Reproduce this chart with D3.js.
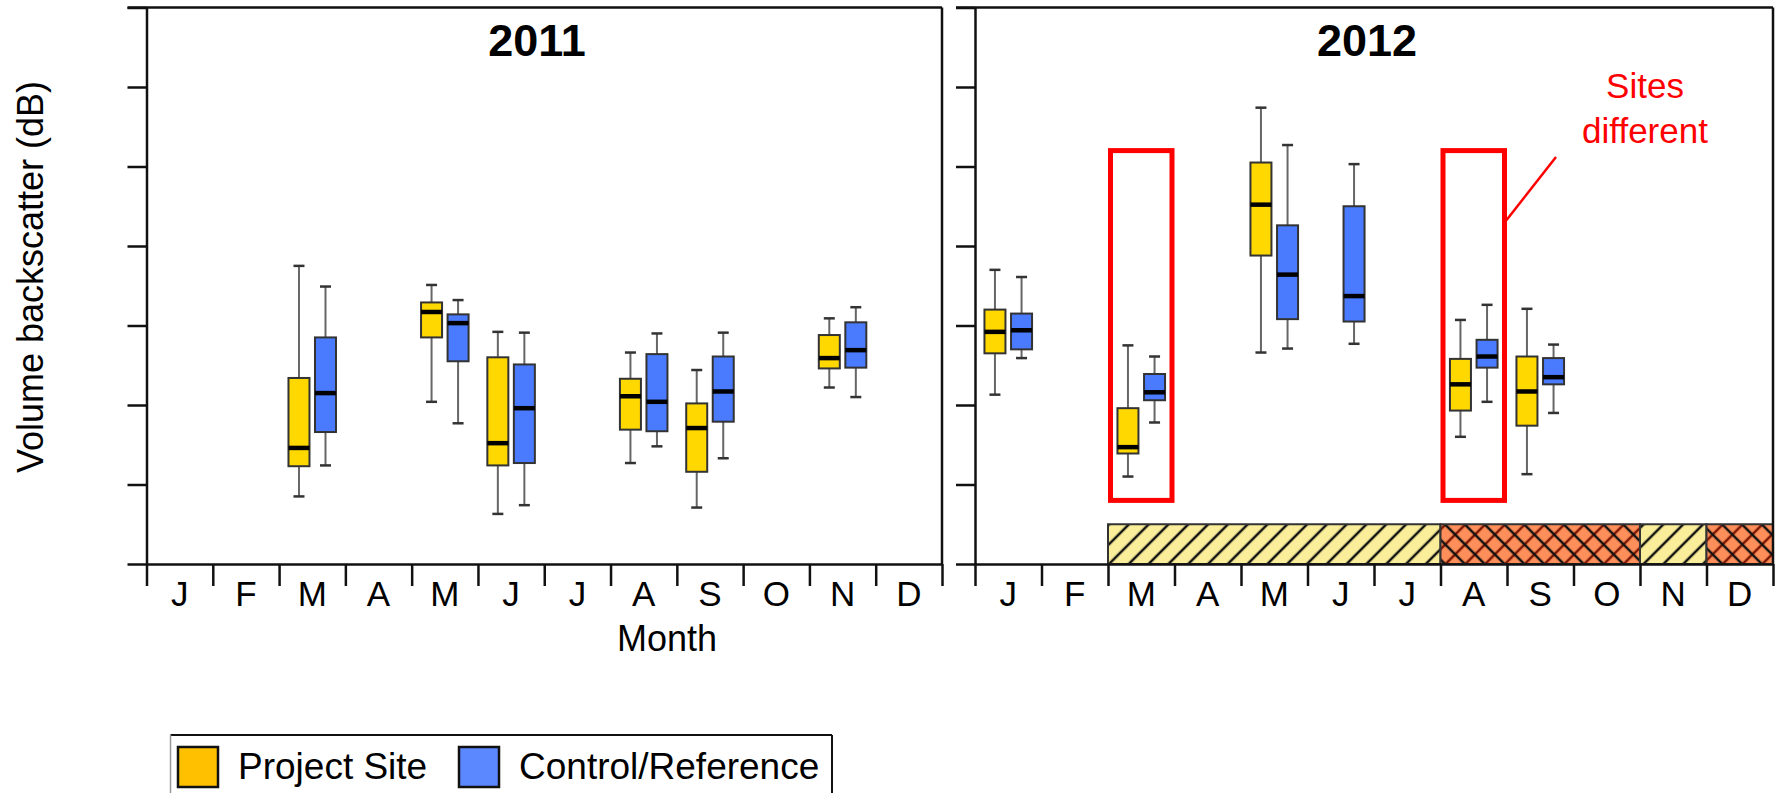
<!DOCTYPE html>
<html>
<head>
<meta charset="utf-8">
<script src="https://cdn.jsdelivr.net/npm/d3@7"></script>
<style>
  body { margin: 0; background: #fff; }
  text { font-family: "Liberation Sans", Arial, sans-serif; }
</style>
</head>
<body>
<svg id="chart" width="1788" height="793"></svg>
<script>
const months = ['J', 'F', 'M', 'A', 'M', 'J', 'J', 'A', 'S', 'O', 'N', 'D']
const seriesNames = ['Project Site', 'Control/Reference']
const yTicks = [0, 1, 2, 3, 4, 5, 6, 7]

// [month index, lower whisker, q1, median, q3, upper whisker]
const project2011 = [
  [2, 0.85, 1.23, 1.46, 2.34, 3.75],
  [4, 2.04, 2.85, 3.17, 3.29, 3.51],
  [5, 0.63, 1.24, 1.52, 2.60, 2.92],
  [7, 1.27, 1.69, 2.11, 2.33, 2.66],
  [8, 0.71, 1.16, 1.71, 2.02, 2.44],
  [10, 2.22, 2.46, 2.59, 2.88, 3.09]
]
const control2011 = [
  [2, 1.24, 1.66, 2.15, 2.85, 3.49],
  [4, 1.77, 2.55, 3.03, 3.14, 3.32],
  [5, 0.74, 1.27, 1.96, 2.51, 2.91],
  [7, 1.48, 1.67, 2.04, 2.64, 2.90],
  [8, 1.33, 1.79, 2.17, 2.61, 2.91],
  [10, 2.10, 2.47, 2.69, 3.04, 3.23]
]
const project2012 = [
  [0, 2.13, 2.65, 2.92, 3.20, 3.70],
  [2, 1.10, 1.39, 1.47, 1.96, 2.75],
  [4, 2.66, 3.88, 4.52, 5.05, 5.74],
  [7, 1.60, 1.93, 2.26, 2.58, 3.07],
  [8, 1.13, 1.74, 2.17, 2.61, 3.21]
]
const control2012 = [
  [0, 2.59, 2.70, 2.94, 3.15, 3.61],
  [2, 1.78, 2.06, 2.16, 2.39, 2.61],
  [4, 2.71, 3.08, 3.64, 4.26, 5.27],
  [5, 2.77, 3.05, 3.37, 4.50, 5.03],
  [7, 2.04, 2.47, 2.61, 2.82, 3.26],
  [8, 1.90, 2.26, 2.35, 2.59, 2.76]
]
const differentMonths2012 = [2, 7]
// month ranges of the 2012 activity band
const periodStart = [2, 7, 10, 11]
const periodEnd = [7, 10, 11, 12]
const periodKind = ['hatch', 'cross', 'hatch', 'cross']

const svg = d3.select('#chart')
const y = d3.scaleLinear().domain([0, 7]).range([564, 7.5])

const defs = svg.append('defs')
function makePattern(id, bg, lines) {
  const s = 14
  const p = defs.append('pattern')
    .attr('id', id)
    .attr('patternUnits', 'userSpaceOnUse')
    .attr('width', s).attr('height', s)
    .attr('patternTransform', 'rotate(45)')
  p.append('rect').attr('width', s).attr('height', s).attr('fill', bg)
  lines.forEach(l => {
    if (l.dir === 'v') {
      p.append('line').attr('x1', s / 2).attr('x2', s / 2).attr('y1', 0).attr('y2', s)
        .attr('stroke', l.color).attr('stroke-width', 2.5)
    } else {
      p.append('line').attr('y1', s / 2).attr('y2', s / 2).attr('x1', 0).attr('x2', s)
        .attr('stroke', l.color).attr('stroke-width', 2.5)
    }
  })
}
makePattern('hatch', '#fbee9a', [{ dir: 'v', color: '#111' }])
makePattern('cross', '#ff8f5a', [{ dir: 'v', color: '#7a1500' }, { dir: 'h', color: '#111' }])

const panels = [
  { year: '2011', project: project2011, control: control2011, x0: 146.5, x1: 942, titleX: 537 },
  { year: '2012', project: project2012, control: control2012, x0: 975, x1: 1773, titleX: 1367 }
]

panels.forEach(drawPanel)

function drawPanel(p) {
  const x = d3.scaleLinear().domain([0, 12]).range([p.x0, p.x1])
  const bw = x(1) - x(0)
  const g = svg.append('g')

  if (p.year === '2012') {
    const band = g.append('g')
    periodStart.forEach((s, i) => {
      band.append('rect')
        .attr('x', x(s))
        .attr('y', y(0.5))
        .attr('width', x(periodEnd[i]) - x(s))
        .attr('height', y(0) - y(0.5))
        .attr('fill', `url(#${periodKind[i]})`)
        .attr('stroke', '#333')
        .attr('stroke-width', 2)
    })
  }

  const yAxis = g.append('g')
    .attr('transform', `translate(${p.x0},0)`)
    .call(d3.axisLeft(y).tickValues(yTicks).tickSize(19).tickFormat('').tickSizeOuter(0))
  const xAxis = g.append('g')
    .attr('transform', `translate(0,${y(0)})`)
    .call(d3.axisBottom(x).tickValues(d3.range(13)).tickSize(22).tickFormat('').tickSizeOuter(0))
  ;[yAxis, xAxis].forEach(a => {
    a.selectAll('path, line').attr('stroke', '#111').attr('stroke-width', 2.5)
  })

  g.append('line')
    .attr('x1', p.x0 - 19).attr('x2', p.x1)
    .attr('y1', y(7)).attr('y2', y(7))
    .attr('stroke', '#111').attr('stroke-width', 2.5)
  g.append('line')
    .attr('x1', p.x1).attr('x2', p.x1)
    .attr('y1', y(7)).attr('y2', y(0))
    .attr('stroke', '#111').attr('stroke-width', 2.5)

  g.selectAll('.month')
    .data(months)
    .join('text')
    .attr('class', 'month')
    .attr('x', (d, i) => x(i + 0.5))
    .attr('y', 606)
    .attr('text-anchor', 'middle')
    .attr('font-size', '35px')
    .text(d => d)

  g.append('text')
    .text(p.year)
    .attr('x', p.titleX)
    .attr('y', 56)
    .attr('text-anchor', 'middle')
    .attr('font-size', '45px')
    .attr('font-weight', 'bold')

  drawBoxes(g, p.project, x, bw * 0.30, '#ffd800')
  drawBoxes(g, p.control, x, bw * 0.70, '#4a7bff')

  if (p.year === '2012') {
    g.selectAll('.different')
      .data(differentMonths2012)
      .join('rect')
      .attr('x', d => x(d) + 2.5)
      .attr('y', y(5.2))
      .attr('width', bw - 5)
      .attr('height', y(0.8) - y(5.2))
      .attr('fill', 'none')
      .attr('stroke', '#ff0000')
      .attr('stroke-width', 5)
    g.append('line')
      .attr('x1', 1556).attr('y1', 157)
      .attr('x2', x(8) - 2).attr('y2', 222)
      .attr('stroke', '#ff0000')
      .attr('stroke-width', 2.5)
    g.append('text').text('Sites')
      .attr('x', 1645).attr('y', 98)
      .attr('text-anchor', 'middle').attr('font-size', '35px').attr('fill', '#ff0000')
    g.append('text').text('different')
      .attr('x', 1645).attr('y', 143)
      .attr('text-anchor', 'middle').attr('font-size', '35px').attr('fill', '#ff0000')
  }
}

function drawBoxes(g, data, x, offset, fill) {
  const w = 21
  const cap = 11
  const b = g.append('g')
  data.forEach(d => {
    const cx = x(d[0]) + offset
    b.append('line')
      .attr('x1', cx).attr('x2', cx)
      .attr('y1', y(d[5])).attr('y2', y(d[1]))
      .attr('stroke', '#666').attr('stroke-width', 2)
    ;[d[1], d[5]].forEach(v => {
      b.append('line')
        .attr('x1', cx - cap / 2).attr('x2', cx + cap / 2)
        .attr('y1', y(v)).attr('y2', y(v))
        .attr('stroke', '#333').attr('stroke-width', 2.5)
    })
    b.append('rect')
      .attr('x', cx - w / 2)
      .attr('y', y(d[4]))
      .attr('width', w)
      .attr('height', y(d[2]) - y(d[4]))
      .attr('fill', fill)
      .attr('stroke', '#333')
      .attr('stroke-width', 2)
    b.append('line')
      .attr('x1', cx - w / 2).attr('x2', cx + w / 2)
      .attr('y1', y(d[3])).attr('y2', y(d[3]))
      .attr('stroke', '#000').attr('stroke-width', 4.5)
  })
}

svg.append('text')
  .text('Volume backscatter (dB)')
  .attr('transform', 'translate(43,277) rotate(-90)')
  .attr('text-anchor', 'middle')
  .attr('font-size', '36px')

svg.append('text')
  .text('Month')
  .attr('x', 667)
  .attr('y', 651)
  .attr('text-anchor', 'middle')
  .attr('font-size', '36px')

// legend
const legend = svg.append('g')
legend.append('line').attr('x1', 170.5).attr('x2', 832).attr('y1', 735).attr('y2', 735)
  .attr('stroke', '#111').attr('stroke-width', 2)
legend.append('line').attr('x1', 170.5).attr('x2', 170.5).attr('y1', 735).attr('y2', 793)
  .attr('stroke', '#999').attr('stroke-width', 1.5)
legend.append('line').attr('x1', 832).attr('x2', 832).attr('y1', 735).attr('y2', 793)
  .attr('stroke', '#111').attr('stroke-width', 2)
const legendFill = ['#ffc000', '#5b87ff']
const legendX = [178, 459]
seriesNames.forEach((name, i) => {
  legend.append('rect')
    .attr('x', legendX[i]).attr('y', 747)
    .attr('width', 40).attr('height', 40)
    .attr('fill', legendFill[i])
    .attr('stroke', '#111').attr('stroke-width', 2.5)
  legend.append('text')
    .text(name)
    .attr('x', legendX[i] + 60)
    .attr('y', 779)
    .attr('font-size', '37px')
})
</script>
</body>
</html>
